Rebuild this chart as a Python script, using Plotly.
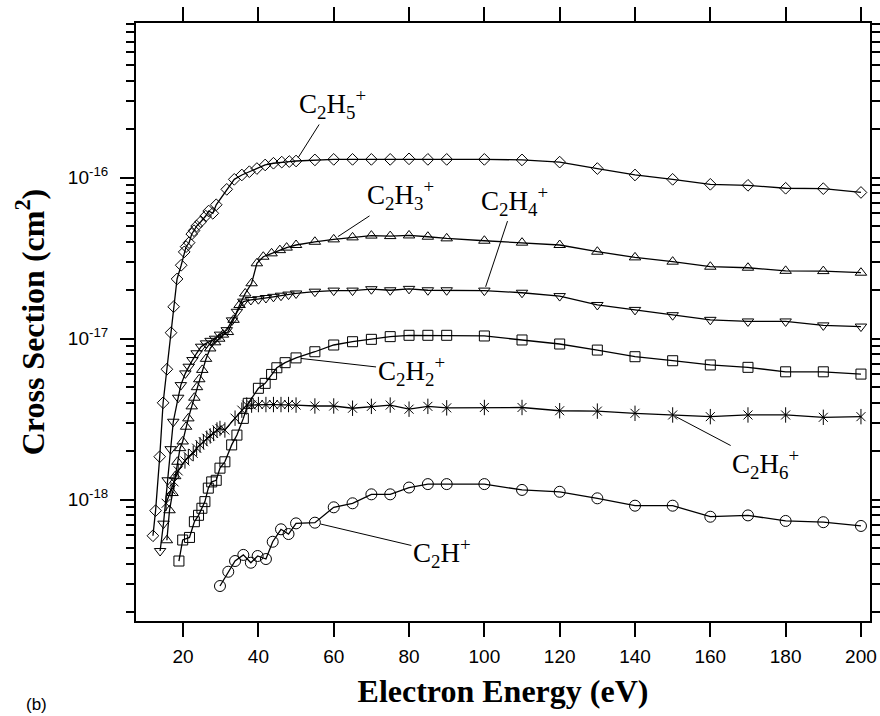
import plotly.graph_objects as go
import math

# ---------------- data ----------------
# C2H5+  (diamonds)
e_c2h5 = [12.0, 12.7, 13.8, 14.7, 15.7, 16.8, 17.5, 18.4, 19.5, 20.3,
          20.8, 21.6, 22.3, 22.9, 23.6, 24.7, 26.0, 26.8, 27.9, 28.8,
          31.6, 33.6, 35.6, 37.6, 39.6, 41.8, 44.0, 46.2, 48.2, 50,
          55, 60, 65, 70, 75, 80, 85, 90,
          100, 110, 120, 130, 140, 150, 160, 170, 180, 190, 200]
s_c2h5 = [5.97e-19, 8.55e-19, 1.85e-18, 4.0e-18, 6.46e-18, 1.09e-17, 1.58e-17, 2.35e-17, 2.86e-17, 3.46e-17,
          3.73e-17, 3.95e-17, 4.47e-17, 4.69e-17, 5.01e-17, 5.33e-17, 5.78e-17, 6.21e-17, 6.01e-17, 6.79e-17,
          8.47e-17, 9.77e-17, 1.04e-16, 1.09e-16, 1.14e-16, 1.20e-16, 1.23e-16, 1.25e-16, 1.26e-16, 1.27e-16,
          1.29e-16, 1.30e-16, 1.30e-16, 1.30e-16, 1.30e-16, 1.31e-16, 1.30e-16, 1.30e-16,
          1.30e-16, 1.29e-16, 1.25e-16, 1.14e-16, 1.04e-16, 9.77e-17, 9.10e-17, 8.97e-17, 8.60e-17, 8.55e-17, 8.10e-17]

# C2H3+  (triangles up)
e_c2h3 = [15.7, 16.4, 17.2, 17.9, 18.5, 19.2, 19.9, 20.8, 21.4, 22.3,
          23.0, 23.7, 24.3, 25.1, 26.1, 27.2, 28.5, 29.6, 30.6, 31.9,
          33.4, 35.0, 36.5, 38.2, 39.6, 41.3, 43.5, 45.7, 47.5, 50,
          55, 60, 65, 70, 75, 80, 85, 90,
          100, 110, 120, 130, 140, 150, 160, 170, 180, 190, 200]
s_c2h3 = [5.6e-19, 8.6e-19, 1.1e-18, 1.4e-18, 1.72e-18, 2.09e-18, 2.3e-18, 2.84e-18, 3.2e-18, 3.8e-18,
          4.3e-18, 5.0e-18, 5.6e-18, 6.4e-18, 7.5e-18, 8.7e-18, 9.5e-18, 1.0e-17, 1.06e-17, 1.1e-17,
          1.31e-17, 1.62e-17, 1.91e-17, 2.21e-17, 2.94e-17, 3.23e-17, 3.39e-17, 3.55e-17, 3.68e-17, 3.82e-17,
          4.00e-17, 4.14e-17, 4.26e-17, 4.37e-17, 4.34e-17, 4.38e-17, 4.30e-17, 4.20e-17,
          4.06e-17, 3.95e-17, 3.82e-17, 3.47e-17, 3.20e-17, 3.01e-17, 2.80e-17, 2.76e-17, 2.64e-17, 2.63e-17, 2.57e-17]

# C2H4+  (triangles down)
e_c2h4 = [13.9, 14.8, 15.9, 16.7, 17.4, 18.7, 19.4, 20.6, 21.5, 22.5,
          23.6, 24.8, 26.1, 27.3, 28.5, 29.8, 31.6, 33.0, 34.3, 36.0,
          38.0, 40, 42, 44, 46, 48, 50,
          55, 60, 65, 70, 75, 80, 85, 90,
          100, 110, 120, 130, 140, 150, 160, 170, 180, 190, 200]
s_c2h4 = [4.8e-19, 7.1e-19, 1.32e-18, 2.06e-18, 3.05e-18, 4.3e-18, 5.15e-18, 6.09e-18, 6.7e-18, 7.37e-18,
          8.12e-18, 8.92e-18, 9.36e-18, 9.7e-18, 1.0e-17, 1.06e-17, 1.13e-17, 1.3e-17, 1.47e-17, 1.70e-17,
          1.74e-17, 1.76e-17, 1.79e-17, 1.82e-17, 1.85e-17, 1.88e-17, 1.91e-17,
          1.96e-17, 1.99e-17, 1.99e-17, 2.03e-17, 2.00e-17, 2.04e-17, 2.00e-17, 2.00e-17,
          1.99e-17, 1.93e-17, 1.84e-17, 1.62e-17, 1.51e-17, 1.40e-17, 1.31e-17, 1.28e-17, 1.28e-17, 1.21e-17, 1.19e-17]

# C2H2+  (squares)
e_c2h2 = [18.9, 19.9, 21.7, 23.0, 24.1, 25.0, 25.8, 26.7, 27.6, 28.8,
          29.8, 31.1, 32.9, 34.3, 36.0, 37.3, 40.0, 41.8, 43.5, 44.9, 47.1, 50,
          55, 60, 65, 70, 75, 80, 85, 90,
          100, 110, 120, 130, 140, 150, 160, 170, 180, 190, 200]
s_c2h2 = [4.16e-19, 5.62e-19, 5.83e-19, 7.3e-19, 8.0e-19, 8.85e-19, 9.73e-19, 1.18e-18, 1.29e-18, 1.32e-18,
          1.57e-18, 1.72e-18, 2.19e-18, 2.52e-18, 3.2e-18, 3.97e-18, 4.92e-18, 5.28e-18, 6.0e-18, 6.6e-18, 7.1e-18, 7.6e-18,
          8.3e-18, 9.14e-18, 9.58e-18, 9.91e-18, 1.03e-17, 1.05e-17, 1.05e-17, 1.05e-17,
          1.04e-17, 9.82e-18, 9.27e-18, 8.5e-18, 7.73e-18, 7.3e-18, 6.87e-18, 6.64e-18, 6.23e-18, 6.23e-18, 6.03e-18]

# C2H6+  (asterisks)
e_c2h6 = [15.5, 16.8, 17.6, 18.7, 20.5, 21.4, 22.7, 23.6, 24.5, 25.4,
          26.3, 27.2, 28.1, 29.0, 29.8, 31.1, 33.8, 35.6, 36.9, 38.2,
          40, 42, 44, 46, 48, 50,
          55, 60, 65, 70, 75, 80, 85, 90,
          100, 110, 120, 130, 140, 150, 160, 170, 180, 190, 200]
s_c2h6 = [9.5e-19, 1.15e-18, 1.29e-18, 1.51e-18, 1.74e-18, 1.85e-18, 1.94e-18, 2.09e-18, 2.19e-18, 2.29e-18,
          2.41e-18, 2.49e-18, 2.58e-18, 2.71e-18, 2.77e-18, 2.71e-18, 3.21e-18, 3.6e-18, 3.87e-18, 3.87e-18,
          3.9e-18, 3.9e-18, 3.9e-18, 3.9e-18, 3.9e-18, 3.87e-18,
          3.82e-18, 3.82e-18, 3.70e-18, 3.80e-18, 3.87e-18, 3.65e-18, 3.80e-18, 3.72e-18,
          3.74e-18, 3.74e-18, 3.57e-18, 3.55e-18, 3.44e-18, 3.36e-18, 3.28e-18, 3.36e-18, 3.36e-18, 3.25e-18, 3.28e-18]

# C2H+  (circles)
e_c2h = [29.8, 32, 33.8, 36, 38, 39.8, 42, 43.8, 46, 48, 50,
         55, 60, 65, 70, 75, 80, 85, 90,
         100, 110, 120, 130, 140, 150, 160, 170, 180, 190, 200]
s_c2h = [2.91e-19, 3.57e-19, 4.16e-19, 4.54e-19, 4.06e-19, 4.47e-19, 4.28e-19, 5.48e-19, 6.55e-19, 6.12e-19, 7.13e-19,
         7.2e-19, 8.97e-19, 9.5e-19, 1.08e-18, 1.08e-18, 1.19e-18, 1.25e-18, 1.25e-18,
         1.25e-18, 1.15e-18, 1.12e-18, 1.02e-18, 9.18e-19, 9.18e-19, 7.84e-19, 7.99e-19, 7.38e-19, 7.25e-19, 6.87e-19]

x_ticks = [20, 40, 60, 80, 100, 120, 140, 160, 180, 200]
y_major = [1e-18, 1e-17, 1e-16]
y_major_text = ["10<sup>-18</sup>", "10<sup>-17</sup>", "10<sup>-16</sup>"]
y_minor = [m * 10.0 ** p for p in (-19, -18, -17, -16) for m in range(2, 10)]

# ---------------- figure ----------------
SERIF = "Liberation Serif, Times New Roman, serif"
SANS = "Liberation Sans, Arial, sans-serif"

fig = go.Figure()

def add_series(x, y, symbol, size, name):
    fig.add_trace(go.Scatter(
        x=x, y=y, mode="lines+markers", name=name,
        line=dict(color="black", width=1.3),
        marker=dict(symbol=symbol, size=size, color="black",
                    line=dict(color="black", width=1)),
        showlegend=False))

add_series(e_c2h5, s_c2h5, "diamond-open", 9, "C2H5+")
add_series(e_c2h3, s_c2h3, "triangle-up-open", 10, "C2H3+")
add_series(e_c2h4, s_c2h4, "triangle-down-open", 10, "C2H4+")
add_series(e_c2h2, s_c2h2, "square-open", 10, "C2H2+")
add_series(e_c2h6, s_c2h6, "x-thin-open", 9, "C2H6+")
fig.add_trace(go.Scatter(x=e_c2h6, y=s_c2h6, mode="markers", showlegend=False,
                         marker=dict(symbol="line-ns-open", size=11, color="black",
                                     line=dict(color="black", width=1))))
add_series(e_c2h, s_c2h, "circle-open", 11, "C2H+")

# labels with leader lines: (text, series x, series y, point index, ax, ay, standoff)
labels = [
    ("C<sub>2</sub>H<sub>5</sub><sup>+</sup>", e_c2h5, s_c2h5, 29, 36, -57, 4),
    ("C<sub>2</sub>H<sub>3</sub><sup>+</sup>", e_c2h3, s_c2h3, 31, 67, -44, 5),
    ("C<sub>2</sub>H<sub>4</sub><sup>+</sup>", e_c2h4, s_c2h4, 35, 30, -90, 4),
    ("C<sub>2</sub>H<sub>2</sub><sup>+</sup>", e_c2h2, s_c2h2, 21, 115, 13, 5),
    ("C<sub>2</sub>H<sub>6</sub><sup>+</sup>", e_c2h6, s_c2h6, 39, 93, 49, 3),
    ("C<sub>2</sub>H<sup>+</sup>", e_c2h, s_c2h, 11, 127, 30, 6),
]
for text, ex, sy, idx, ax, ay, so in labels:
    fig.add_annotation(x=ex[idx], y=math.log10(sy[idx]), xref="x", yref="y",
                       text=text, showarrow=True, arrowhead=0, arrowwidth=1,
                       arrowcolor="black", ax=ax, ay=ay, standoff=so,
                       font=dict(family=SERIF, size=27, color="black"))

fig.add_annotation(x=-0.136, y=-0.14, xref="paper", yref="paper", text="(b)",
                   showarrow=False, xanchor="center", yanchor="middle",
                   font=dict(family=SANS, size=17, color="black"))

fig.update_layout(
    width=880, height=716,
    margin=dict(l=136, r=10, t=23, b=95),
    paper_bgcolor="white", plot_bgcolor="white",
    xaxis=dict(range=[7.5, 202.4], tickmode="array", tickvals=x_ticks,
               ticks="outside", ticklen=14, tickwidth=2, tickcolor="black",
               showline=True, linewidth=2, linecolor="black", mirror="allticks",
               showgrid=False, zeroline=False, ticklabelstandoff=3, automargin=False,
               tickfont=dict(family=SANS, size=19, color="black"),
               title=dict(text="Electron Energy (eV)", standoff=14,
                          font=dict(family=SERIF, size=32, color="black", weight="bold"))),
    yaxis=dict(type="log", range=[-18.7534, -15.039], tickmode="array",
               tickvals=y_major, ticktext=y_major_text,
               ticks="outside", ticklen=14, tickwidth=2, tickcolor="black",
               minor=dict(tickmode="array", tickvals=y_minor, ticks="outside",
                          ticklen=8, tickwidth=2, tickcolor="black", showgrid=False),
               showline=True, linewidth=2, linecolor="black", mirror="allticks",
               showgrid=False, zeroline=False, ticklabelstandoff=8, automargin=False,
               tickfont=dict(family=SANS, size=19, color="black"),
               title=dict(text="Cross Section (cm<sup>2</sup>)", standoff=14,
                          font=dict(family=SERIF, size=32, color="black", weight="bold"))),
)

fig.write_html("out.html")
